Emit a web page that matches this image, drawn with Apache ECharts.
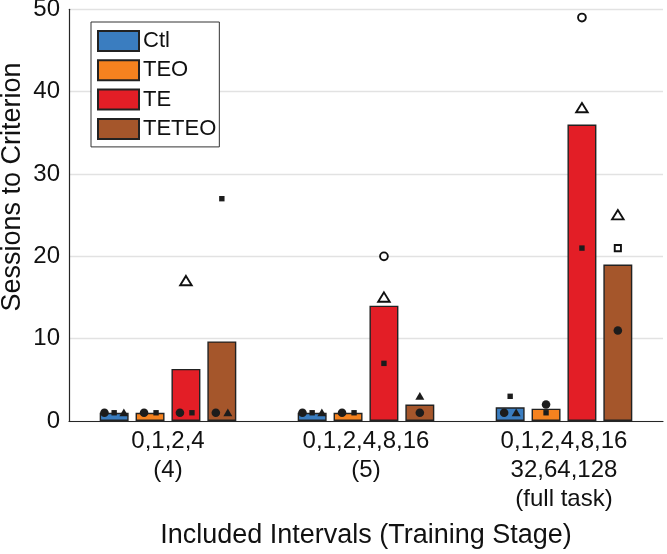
<!DOCTYPE html>
<html>
<head>
<meta charset="utf-8">
<script src="https://cdn.jsdelivr.net/npm/echarts@6/dist/echarts.min.js"></script>
<style>
  html, body { margin: 0; padding: 0; background: #fff; }
  #chart { width: 667px; height: 554px; }
</style>
</head>
<body>
<div id="chart"></div>
<script>
// ---------------- DATA ----------------
const categories = ['0,1,2,4\n(4)', '0,1,2,4,8,16\n(5)', '0,1,2,4,8,16\n32,64,128\n(full task)'];
const seriesNames = ['Ctl', 'TEO', 'TE', 'TETEO'];

// bar heights (group means)
const ctlMean   = [1, 1, 1.67];
const teoMean   = [1, 1, 1.5];
const teMean    = [6.33, 14, 36];
const teteoMean = [9.67, 2, 19];

// individual animals (circle / square / triangle), null = no value
const ctlCircle   = [1, 1, 1];
const ctlSquare   = [1, 1, 3];
const ctlTriangle = [1, 1, 1];
const teoCircle   = [1, 1, 2];
const teoSquare   = [1, 1, 1];
const teoTriangle = [null, null, null];
const teCircle    = [1, 20, 49];
const teSquare    = [1, 7, 21];
const teTriangle  = [17, 15, 38];
const teteoCircle   = [1, 1, 11];
const teteoSquare   = [27, null, 21];
const teteoTriangle = [1, 3, 25];

// open (hollow) marker flags per animal
const ctlCircleOpen   = [false, false, false];
const ctlSquareOpen   = [false, false, false];
const ctlTriangleOpen = [false, false, false];
const teoCircleOpen   = [false, false, false];
const teoSquareOpen   = [false, false, false];
const teoTriangleOpen = [false, false, false];
const teCircleOpen    = [false, true, true];
const teSquareOpen    = [false, false, false];
const teTriangleOpen  = [true, true, true];
const teteoCircleOpen   = [false, false, false];
const teteoSquareOpen   = [false, null, true];
const teteoTriangleOpen = [false, false, true];

const yTicks = [0, 10, 20, 30, 40, 50];

// ---------------- BUILD ----------------
const means = [ctlMean, teoMean, teMean, teteoMean];
const points = [
  [[ctlCircle, ctlCircleOpen], [ctlSquare, ctlSquareOpen], [ctlTriangle, ctlTriangleOpen]],
  [[teoCircle, teoCircleOpen], [teoSquare, teoSquareOpen], [teoTriangle, teoTriangleOpen]],
  [[teCircle, teCircleOpen], [teSquare, teSquareOpen], [teTriangle, teTriangleOpen]],
  [[teteoCircle, teteoCircleOpen], [teteoSquare, teteoSquareOpen], [teteoTriangle, teteoTriangleOpen]]
];
const shapeNames = ['circle', 'square', 'triangle'];
const colors = ['#3a7dc0', '#f5821f', '#e31e26', '#a5562b'];
const FONT = '"Liberation Sans", Arial, Helvetica, sans-serif';
const CAT_GAP = 0.31, BAR_GAP = 0.24, NBARS = 4;

// build marker data with spread index for coincident values
const markerData = [];
for (let s = 0; s < 4; s++) {
  for (let c = 0; c < categories.length; c++) {
    const pts = [];
    for (let k = 0; k < 3; k++) {
      const v = points[s][k][0][c];
      if (v === null || v === undefined) continue;
      pts.push({ k, v, open: points[s][k][1][c] });
    }
    pts.forEach(p => {
      const same = pts.filter(q => q.v === p.v);
      const idx = same.indexOf(p);
      markerData.push([c, p.v, s, p.k, p.open ? 1 : 0, idx, same.length]);
    });
  }
}

const chart = echarts.init(document.getElementById('chart'), null, { renderer: 'canvas' });

const barSeries = seriesNames.map((name, i) => ({
  name, type: 'bar', data: means[i],
  barCategoryGap: (CAT_GAP * 100) + '%', barGap: (BAR_GAP * 100) + '%',
  itemStyle: { color: colors[i], borderColor: '#222', borderWidth: 1.4 },
  emphasis: { disabled: true }, z: 2
}));

function renderMarker(params, api) {
  const c = api.value(0), v = api.value(1), s = api.value(2), k = api.value(3);
  const open = api.value(4), idx = api.value(5), n = api.value(6);
  const pt = api.coord([c, v]);
  const band = api.size([1, 0])[0];
  const usable = band * (1 - CAT_GAP);
  const bw = usable / (NBARS + (NBARS - 1) * BAR_GAP);
  const offset = -usable / 2 + bw / 2 + s * bw * (1 + BAR_GAP);
  const spacing = n >= 3 ? 9.7 : 12;
  const x = pt[0] + offset + (idx - (n - 1) / 2) * spacing;
  const y = pt[1];
  const fill = open ? '#ffffff' : '#1c1c1c';
  const style = { fill, stroke: '#111', lineWidth: open ? 1.9 : 0 };
  const shape = shapeNames[k];
  if (shape === 'circle') {
    return { type: 'circle', shape: { cx: x, cy: y, r: open ? 3.9 : 4.3 }, style };
  } else if (shape === 'square') {
    const a = open ? 6.2 : 5.4;
    return { type: 'rect', shape: { x: x - a / 2, y: y - a / 2, width: a, height: a }, style };
  } else {
    const w = open ? 11.5 : 9, h = open ? 9.3 : 7.6;
    return { type: 'polygon', shape: { points: [[x, y - h * 0.55], [x + w / 2, y + h * 0.45], [x - w / 2, y + h * 0.45]] }, style };
  }
}

const option = {
  animation: false,
  backgroundColor: '#ffffff',
  textStyle: { fontFamily: FONT },
  grid: { left: 69, right: 4, top: 9.3, bottom: 133, containLabel: false, outerBoundsMode: 'none' },
  legend: {
    data: seriesNames,
    orient: 'vertical',
    left: 91, top: 22,
    itemWidth: 41, itemHeight: 20, itemGap: 7.3,
    padding: [8, 3, 7, 6],
    borderColor: '#333', borderWidth: 1,
    backgroundColor: '#fff',
    selectedMode: false,
    icon: 'rect',
    textStyle: { fontSize: 22, color: '#111', fontFamily: FONT, padding: [0, 0, 0, -1] }
  },
  xAxis: {
    type: 'category', data: categories,
    axisLine: { show: true, lineStyle: { color: '#262626', width: 1.2 } },
    axisTick: { show: false },
    axisLabel: { fontSize: 24, color: '#111', lineHeight: 29, margin: 6, fontFamily: FONT, interval: 0 },
    splitLine: { show: false }
  },
  yAxis: {
    type: 'value', min: yTicks[0], max: yTicks[yTicks.length - 1], interval: yTicks[1] - yTicks[0],
    axisLine: { show: true, lineStyle: { color: '#262626', width: 1.2 } },
    axisTick: { show: false },
    axisLabel: { fontSize: 24, color: '#111', margin: 9, fontFamily: FONT },
    splitLine: { show: true, lineStyle: { color: '#e2e2e2', width: 1.3 } }
  },
  graphic: [
    { type: 'text', x: 13, y: 187, rotation: Math.PI / 2,
      style: { text: 'Sessions to Criterion', fontSize: 27, fill: '#111', fontFamily: FONT, textAlign: 'center', textVerticalAlign: 'middle' } },
    { type: 'text', x: 366, y: 536,
      style: { text: 'Included Intervals (Training Stage)', fontSize: 27, fill: '#111', fontFamily: FONT, textAlign: 'center', textVerticalAlign: 'middle' } }
  ],
  series: barSeries.concat([{
    type: 'custom', name: 'animals', data: markerData,
    renderItem: renderMarker, z: 5, silent: true,
    encode: { x: 0, y: 1 }
  }])
};
chart.setOption(option);
</script>
</body>
</html>
